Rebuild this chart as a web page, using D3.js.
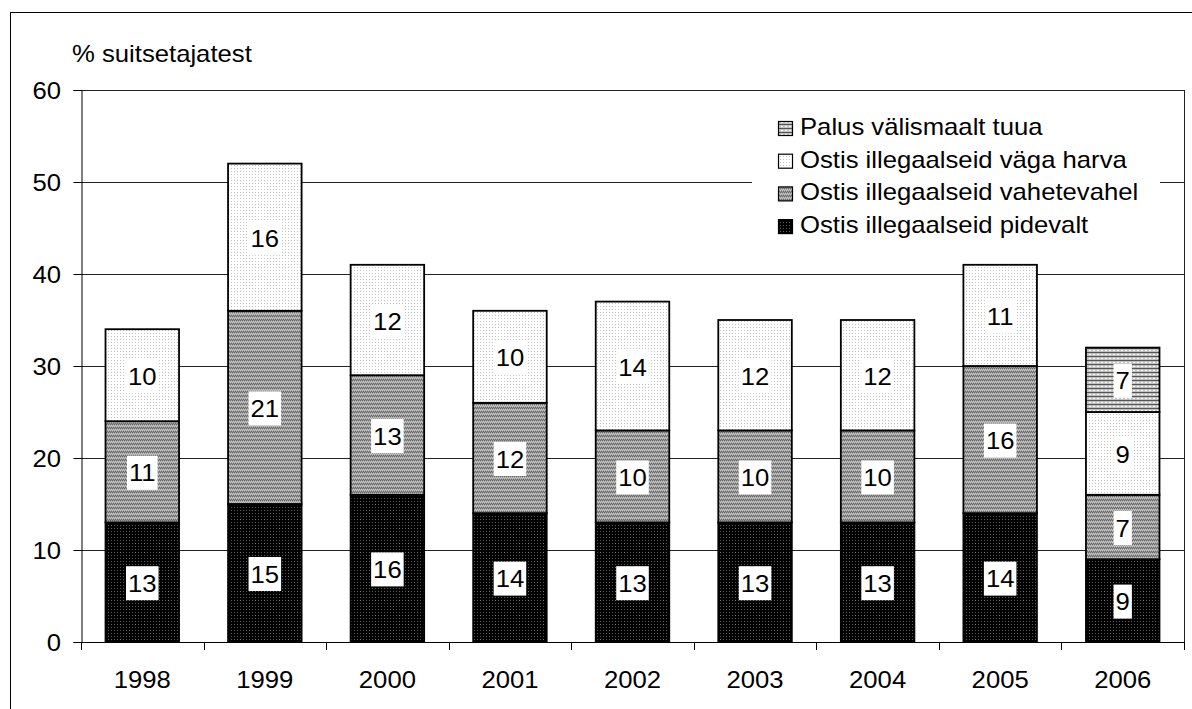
<!DOCTYPE html>
<html><head><meta charset="utf-8">
<script src="https://cdn.jsdelivr.net/npm/d3@7"></script>
<style>
html,body{margin:0;padding:0;background:#fff;}
svg{display:block;font-family:Arial,"Liberation Sans",sans-serif;}
</style></head>
<body><svg id="c" width="1192" height="709"></svg>
<script>
const years = ["1998","1999","2000","2001","2002","2003","2004","2005","2006"];
const pidevalt = [13,15,16,14,13,13,13,14,9];
const vahetevahel = [11,21,13,12,10,10,10,16,7];
const vagaHarva = [10,16,12,10,14,12,12,11,9];
const palus = [0,0,0,0,0,0,0,0,7];
const seriesNames = ["Ostis illegaalseid pidevalt","Ostis illegaalseid vahetevahel","Ostis illegaalseid väga harva","Palus välismaalt tuua"];
const yTicks = [0,10,20,30,40,50,60];
const yTitle = "% suitsetajatest";

const svg = d3.select("#c");
const L=81, R=1184, T=90, B=642, FS=24, SX=1.07;

// text helper: stretched horizontally a little
function txt(g, x0, y0, s, anchor){
  return g.append("text").attr("transform",`translate(${x0},${y0}) scale(${SX},1)`)
    .attr("text-anchor",anchor||"start").attr("font-size",FS).attr("fill","#000").text(s);
}

// patterns
const defs = svg.append("defs");
function pat(id, bg, dots, size){
  const p = defs.append("pattern").attr("id",id).attr("patternUnits","userSpaceOnUse").attr("width",size).attr("height",size);
  p.append("rect").attr("width",size).attr("height",size).attr("fill",bg);
  dots.forEach(d=>p.append("rect").attr("x",d[0]).attr("y",d[1]).attr("width",d[3]||1).attr("height",1).attr("fill",d[2]));
}
pat("p0","#000",[[0,0,"#5a5a5a"]],3);
pat("p1","#9a9a9a",[[0,0,"#6a6a6a"],[1,1,"#c8c8c8"],[2,0,"#6a6a6a"],[3,1,"#c8c8c8"],[0,2,"#c8c8c8"],[2,2,"#c8c8c8"],[1,3,"#6a6a6a"],[3,3,"#6a6a6a"]],4);
pat("p2","#fff",[[0,0,"#c4c4c4"]],3);
pat("p3","#c0c0c0",[[0,0,"#555",4],[1,2,"#fff",2]],4);
const fills = ["url(#p0)","url(#p1)","url(#p2)","url(#p3)"];

const series = [pidevalt, vahetevahel, vagaHarva, palus];
const data = years.map((y,i)=>{const o={year:y}; series.forEach((s,k)=>o["s"+k]=s[i]); return o;});
const stack = d3.stack().keys(["s0","s1","s2","s3"])(data);

const x = d3.scaleBand().domain(years).range([L,R]).paddingInner(0.4).paddingOuter(0.2);
const y = d3.scaleLinear().domain([0,60]).range([B,T]);

// outer border
svg.append("rect").attr("x",10.5).attr("y",12.5).attr("width",1200).attr("height",720).attr("fill","none").attr("stroke","#000").attr("stroke-width",1);

// gridlines
svg.append("g").selectAll("line").data(yTicks.filter(d=>d>0)).join("line")
  .attr("x1",L).attr("x2",R).attr("y1",d=>Math.round(y(d))+0.5).attr("y2",d=>Math.round(y(d))+0.5)
  .attr("stroke","#222").attr("stroke-width",1);
svg.append("line").attr("x1",R+0.5).attr("x2",R+0.5).attr("y1",T).attr("y2",B).attr("stroke","#222");

// y axis
const yAxis = d3.axisLeft(y).tickValues(yTicks).tickSize(8).tickFormat("");
const gy = svg.append("g").attr("transform",`translate(${L+0.5},0)`).call(yAxis);
gy.select(".domain").attr("stroke","#000");
gy.selectAll(".tick line").attr("stroke","#000");
const gyl = svg.append("g");
yTicks.forEach(v=>txt(gyl, 61, y(v)+FS*0.36, String(v), "end"));

// x axis
const step = x.step();
const xb = svg.append("g");
xb.append("line").attr("x1",L).attr("x2",R+1).attr("y1",B+0.5).attr("y2",B+0.5).attr("stroke","#000");
xb.selectAll("line.t").data(d3.range(years.length+1)).join("line").attr("class","t")
  .attr("x1",i=>Math.round(L+i*step)+0.5).attr("x2",i=>Math.round(L+i*step)+0.5)
  .attr("y1",B).attr("y2",B+8).attr("stroke","#000");
years.forEach(d=>txt(xb, x(d)+x.bandwidth()/2, 688, d, "middle"));

// bars
stack.forEach((layer,k)=>{
  const g = svg.append("g");
  layer.forEach((d,i)=>{
    if(d[1]-d[0]<=0) return;
    g.append("rect").attr("x",x(years[i])).attr("width",x.bandwidth())
      .attr("y",y(d[1])).attr("height",y(d[0])-y(d[1]))
      .attr("fill",fills[k]).attr("stroke","#000").attr("stroke-width",1.8);
  });
});
// labels
const lb = svg.append("g");
stack.forEach((layer,k)=>{
  layer.forEach((d,i)=>{
    const v = d[1]-d[0];
    if(v<=0) return;
    const cx = x(years[i])+x.bandwidth()/2, cy = y((d[0]+d[1])/2)+1;
    const bg = lb.append("rect");
    const t = txt(lb, cx, cy+FS*0.36, String(v), "middle");
    const w = t.node().getComputedTextLength()*SX;
    bg.attr("x",cx-w/2-2).attr("y",cy-17).attr("width",w+4).attr("height",34).attr("fill","#fff");
  });
});

// title
txt(svg, 72, 62, yTitle);

// legend
const lg = svg.append("g");
lg.append("rect").attr("x",752).attr("y",110).attr("width",408).attr("height",136).attr("fill","#fff");
const order = [3,2,1,0];
order.forEach((k,r)=>{
  const by = 135 + r*32.7;
  lg.append("rect").attr("x",778.5).attr("y",by-13.5).attr("width",14).attr("height",14)
    .attr("fill",fills[k]).attr("stroke","#000").attr("stroke-width",1.2);
  txt(lg, 800, by, seriesNames[k]);
});
</script></body></html>
